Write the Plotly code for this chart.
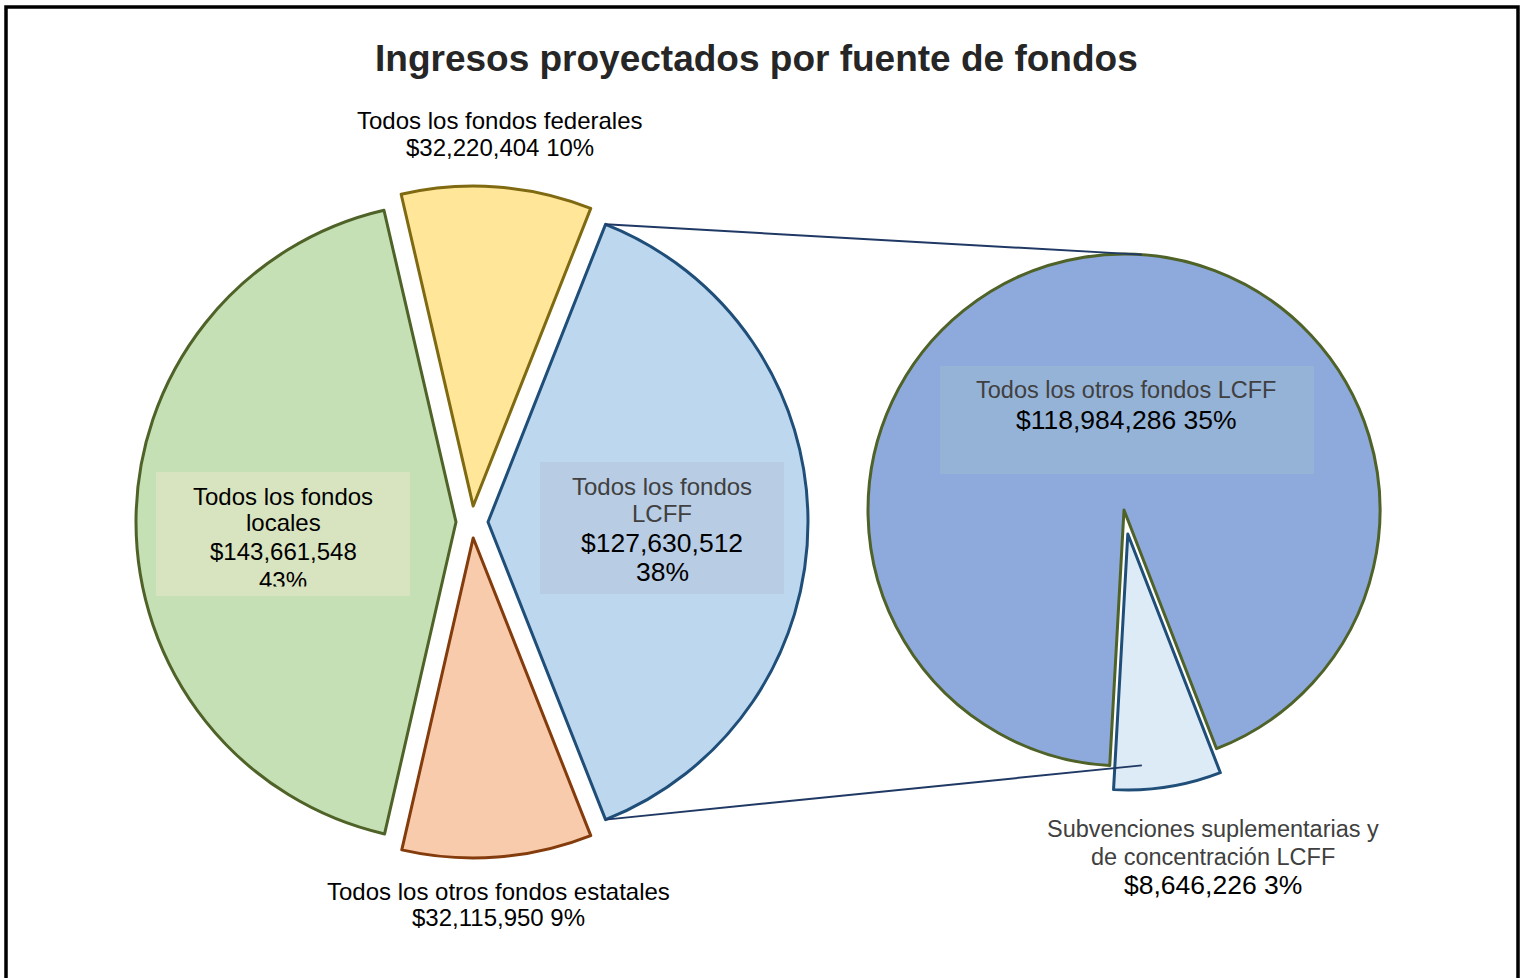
import math
import plotly.graph_objects as go

W, H = 1522, 978

# main pie, listed clockwise starting from the upper edge of the LCFF slice
main_labels = ["Todos los fondos LCFF", "Todos los otros fondos estatales",
               "Todos los fondos locales", "Todos los fondos federales"]
main_values = [127630512, 32115950, 143661548, 32220404]
main_pct = ["38%", "9%", "43%", "10%"]

# secondary pie: split of the LCFF slice
lcff_labels = ["Subvenciones suplementarias y de concentración LCFF", "Todos los otros fondos LCFF"]
lcff_values = [8646226, 118984286]
lcff_pct = ["3%", "35%"]

main_fill = ["#BDD7EE", "#F8CBAD", "#C5E0B4", "#FFE699"]
main_edge = ["#1F4E79", "#843C0C", "#4F6228", "#7F6A12"]
lcff_fill = ["#DDEBF7", "#8EA9DB"]
lcff_edge = ["#1F4E79", "#4F6228"]

FONT = "Liberation Sans, Arial, sans-serif"
GRAY = "#404040"

# geometry in pixels (centre, radius, pull)
c1, r1, pull1 = (472, 522), 320, 0.05
c2, r2, pull2 = (1124, 510), 256, 0.095
small_mid = 171  # direction of the pulled-out small slice, deg clockwise from 12 o'clock


def domain(c, r, pull):
    half = r * (1 + pull)
    return dict(x=[(c[0] - half) / W, (c[0] + half) / W],
                y=[(H - c[1] - half) / H, (H - c[1] + half) / H])


def paper(x, y):
    return x / W, 1 - y / H


def polar(c, r, ang):
    a = math.radians(ang)
    return c[0] + r * math.sin(a), c[1] - r * math.cos(a)


lcff_share = main_values[0] / sum(main_values)
rot1 = 90 - 180 * lcff_share  # LCFF slice faces the secondary pie
small_share = lcff_values[0] / sum(lcff_values)
rot2 = small_mid - 180 * small_share

fig = go.Figure()
fig.add_trace(go.Pie(
    labels=main_labels, values=main_values, sort=False, direction="clockwise",
    rotation=rot1, pull=[pull1] * len(main_values), domain=domain(c1, r1, pull1),
    marker=dict(colors=main_fill, line=dict(color=main_edge, width=3)),
    textinfo="none", customdata=main_pct,
    hovertemplate="%{label}<br>$%{value:,} %{customdata}<extra></extra>",
    showlegend=False,
))
fig.add_trace(go.Pie(
    labels=lcff_labels, values=lcff_values, sort=False, direction="clockwise",
    rotation=rot2, pull=[pull2, 0], domain=domain(c2, r2, pull2),
    marker=dict(colors=lcff_fill, line=dict(color=lcff_edge, width=3)),
    textinfo="none", customdata=lcff_pct,
    hovertemplate="%{label}<br>$%{value:,} %{customdata}<extra></extra>",
    showlegend=False,
))

shapes = []
# connectors from the exploded LCFF slice to the secondary pie
apex = polar(c1, r1 * pull1, 90)
lcff_angle = 360 * lcff_share
for a_from, a_to in [(rot1, 4), (rot1 + lcff_angle, 176)]:
    x0, y0 = paper(*polar(apex, r1, a_from))
    x1, y1 = paper(*polar(c2, r2, a_to))
    shapes.append(dict(type="line", xref="paper", yref="paper", x0=x0, y0=y0, x1=x1, y1=y1,
                       line=dict(color="#1F3864", width=2), layer="above"))

# translucent label boxes
for (bx0, by0, bx1, by1), col in [((156, 472, 410, 596), "#D8E4BF"),
                                  ((540, 462, 784, 594), "#B8CCE4"),
                                  ((940, 366, 1314, 474), "#95B3D7")]:
    x0, y0 = paper(bx0, by1)
    x1, y1 = paper(bx1, by0)
    shapes.append(dict(type="rect", xref="paper", yref="paper", x0=x0, y0=y0, x1=x1, y1=y1,
                       fillcolor=col, line=dict(width=0), layer="above"))

# outer frame
shapes.append(dict(type="rect", xref="paper", yref="paper", x0=6 / W, x1=1518 / W,
                   y0=-0.05, y1=1 - 7 / H, line=dict(color="black", width=3.5), layer="above"))

annotations = []


def txt(s, x, y, size=24, color="black", **kw):
    px, py = paper(x, y)
    d = dict(text=s, x=px, y=py, xref="paper", yref="paper", showarrow=False,
             xanchor="center", yanchor="middle", font=dict(family=FONT, size=size, color=color))
    d.update(kw)
    annotations.append(d)


def money(v, p):
    return f"${v:,} {p}"


txt("<b>Ingresos proyectados por fuente de fondos</b>", 756, 59, size=37, color="#262626")

# federales
txt(main_labels[3], 500, 121)
txt(money(main_values[3], main_pct[3]), 500, 147)
# estatales
txt(main_labels[1], 498, 891.5)
txt(money(main_values[1], main_pct[1]), 498, 917)
# locales (last line is clipped by its box, like the original)
txt("Todos los fondos", 283, 496.5)
txt("locales", 283, 522.5)
txt(f"${main_values[2]:,}", 283, 551)
lx, ly = paper(283, 565)
annotations.append(dict(text=main_pct[2], x=lx, y=ly, xref="paper", yref="paper", showarrow=False,
                        xanchor="center", yanchor="top", valign="top", height=19.5,
                        font=dict(family=FONT, size=24, color="black")))
# LCFF
txt("Todos los fondos", 662, 486.5, color=GRAY)
txt("LCFF", 662, 513.5, color=GRAY)
txt(f"${main_values[0]:,}", 662, 542.5, size=26.5)
txt(main_pct[0], 662, 572, size=26.5)
# secondary pie
txt(lcff_labels[1], 1126, 390, size=23.5, color=GRAY)
txt(money(lcff_values[1], lcff_pct[1]), 1126, 420, size=26.5)
txt("Subvenciones suplementarias y", 1213, 828.5, size=23.5, color=GRAY)
txt("de concentración LCFF", 1213, 856.5, size=23.5, color=GRAY)
txt(money(lcff_values[0], lcff_pct[0]), 1213, 885, size=26.5)

fig.update_layout(
    width=W, height=H, autosize=False,
    margin=dict(l=0, r=0, t=0, b=0),
    paper_bgcolor="white", plot_bgcolor="white",
    shapes=shapes, annotations=annotations,
    font=dict(family=FONT),
)

fig.write_html("out.html", config={"displayModeBar": False},
               post_script="document.body.style.margin='0';")
